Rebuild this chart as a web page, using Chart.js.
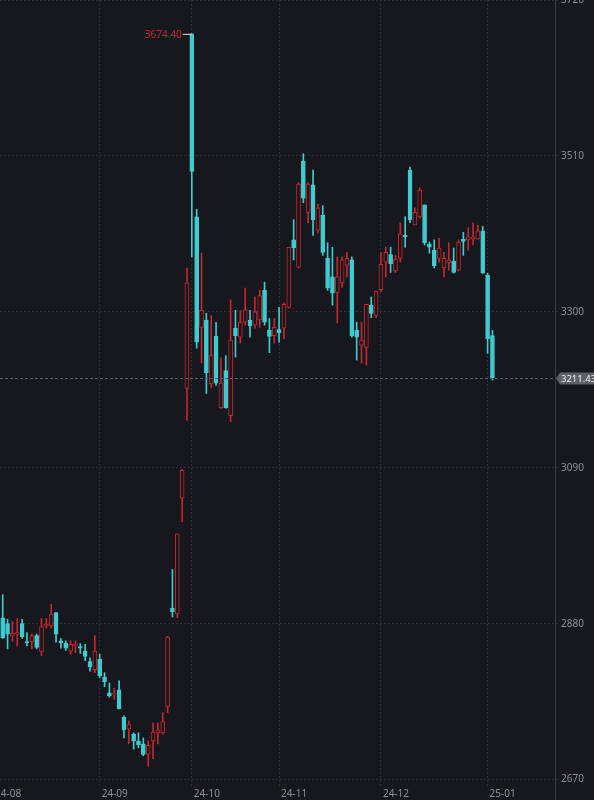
<!DOCTYPE html>
<html>
<head>
<meta charset="utf-8">
<script src="https://cdn.jsdelivr.net/npm/chart.js@4.4.1/dist/chart.umd.min.js"></script>
<style>
  html, body { margin: 0; padding: 0; background: #16181d; }
  #wrap { width: 594px; height: 800px; position: relative; }
</style>
</head>
<body>
<div id="wrap"><canvas id="kline"></canvas></div>
<script>
const dates = [
  "08-05","08-06","08-07","08-08","08-09","08-12","08-13","08-14","08-15","08-16",
  "08-19","08-20","08-21","08-22","08-23","08-26","08-27","08-28","08-29","08-30",
  "09-02","09-03","09-04","09-05","09-06","09-09","09-10","09-11","09-12","09-13",
  "09-18","09-19","09-20","09-23","09-24","09-25","09-26","09-27","09-30",
  "10-08","10-09","10-10","10-11","10-14","10-15","10-16","10-17","10-18",
  "10-21","10-22","10-23","10-24","10-25","10-28","10-29","10-30","10-31",
  "11-01","11-04","11-05","11-06","11-07","11-08","11-11","11-12","11-13","11-14",
  "11-15","11-18","11-19","11-20","11-21","11-22","11-25","11-26","11-27","11-28","11-29",
  "12-02","12-03","12-04","12-05","12-06","12-09","12-10","12-11","12-12","12-13",
  "12-16","12-17","12-18","12-19","12-20","12-23","12-24","12-25","12-26","12-27",
  "12-30","12-31","01-02","01-03"
];
const opens = [
  2888,2880,2863,2866,2880,2856,2856,2864,2842,2877,2877,2895,2857,2854,2843,2850,2849,2843,2829,2818,
  2832,2808,2787,2785,2791,2754,2738,2731,2722,2718,2704,2722,2733,2733,2768,2901,2893,3049,3197,
  3674.4,3428,3279,3289,3203,3267,3171,3221,3160,3278,3266,3286,3289,3282,3289,3329,3275,3268,
  3276,3278,3306,3397,3360,3503,3434,3471,3410,3430,3372,3347,3326,3339,3363,3370,3275,3255,3252,3309,3295,
  3330,3367,3377,3355,3372,3403,3491,3417,3428,3444,3391,3383,3372,3359,3366,3368,3356,3398,3397,3398,3398,3409,
  3349,3268
];
const highs = [
  2919,2886,2883,2887,2886,2868,2866,2866,2887,2887,2906,2895,2860,2857,2857,2857,2853,2852,2834,2864,
  2839,2814,2800,2793,2803,2756,2749,2733,2733,2726,2722,2746,2746,2760,2863,2953,3001,3088,3359,
  3674.4,3438,3379,3298,3295,3286,3238,3241,3316,3302,3302,3332,3302,3320,3329,3340,3291,3291,
  3306,3312,3387,3424,3474,3513,3474,3491,3445,3443,3393,3387,3374,3374,3380,3374,3286,3286,3310,3320,3328,
  3380,3387,3387,3376,3420,3428,3495,3440,3467,3444,3394,3397,3399,3380,3393,3386,3397,3407,3413,3420,3417,3415,
  3352,3275
];
const lows = [
  2860,2846,2856,2850,2860,2850,2846,2846,2837,2874,2874,2855,2847,2844,2839,2841,2840,2830,2816,2814,
  2807,2795,2781,2778,2765,2726,2718,2711,2713,2702,2688,2698,2718,2731,2760,2889,2888,3017,3154,
  3374,3251,3231,3190,3198,3201,3170,3170,3152,3239,3258,3282,3266,3278,3279,3282,3245,3258,
  3259,3264,3305,3370,3359,3447,3420,3403,3406,3376,3329,3309,3285,3333,3347,3266,3235,3231,3228,3292,3292,
  3327,3347,3353,3353,3367,3387,3420,3417,3426,3390,3379,3359,3367,3347,3356,3352,3355,3376,3383,3390,3398,3352,
  3244,3208
];
const closes = [
  2861,2866,2867,2868,2862,2854,2864,2848,2876,2879,2893,2866,2854,2847,2852,2852,2847,2836,2822,2843,
  2810,2802,2783,2786,2765,2737,2744,2722,2717,2704,2716,2734,2737,2748,2862,2896,3001,3087,3339,
  3489,3259,3302,3218,3241,3204,3204,3171,3262,3268,3286,3303,3281,3300,3322,3286,3267,3279,
  3272,3310,3387,3386,3472,3453,3472,3424,3440,3380,3332,3325,3347,3370,3372,3268,3266,3262,3310,3298,3328,
  3364,3380,3365,3371,3405,3401,3424,3434,3464,3393,3387,3362,3386,3372,3370,3353,3394,3395,3401,3401,3409,3352,
  3264,3211.43
];
const monthStarts = ["08-01","09-02","10-08","11-01","12-02","01-02"];
const monthLabels = ["24-08","24-09","24-10","24-11","24-12","25-01"];
const yTicks = [2670, 2880, 3090, 3300, 3510, 3720];

const UP = "#c8262e", DOWN = "#3fcbd0", BG = "#16181d";
const isUp = i => closes[i] >= opens[i];

// Aug 1 sits two trading days before the first candle
const monthIdx = monthStarts.map((d, k) => k === 0 ? -2 : dates.indexOf(d));

const bodies = dates.map((d, i) => ({ x: i, y: [opens[i], closes[i]] }));
const wicks = dates.map((d, i) => ({ x: i, y: [lows[i], highs[i]] }));

const overlay = {
  id: "overlay",
  afterDraw(chart) {
    const { ctx, scales: { x, y }, chartArea } = chart;
    ctx.save();
    ctx.font = "10px 'Noto Sans', sans-serif";
    ctx.textBaseline = "middle";
    // month labels
    ctx.fillStyle = "#8c8f96";
    ctx.textAlign = "left";
    monthIdx.forEach((idx, k) => {
      ctx.fillText(monthLabels[k], x.getPixelForValue(idx) + 2, chartArea.bottom + 7);
    });
    // axis border
    ctx.strokeStyle = "#3a3d44";
    ctx.beginPath(); ctx.moveTo(chartArea.right + 0.5, 0); ctx.lineTo(chartArea.right + 0.5, 800); ctx.stroke();
    // max marker
    let hi = 0;
    highs.forEach((h, i) => { if (h > highs[hi]) hi = i; });
    const hx = x.getPixelForValue(hi), hy = y.getPixelForValue(highs[hi]);
    ctx.strokeStyle = "#e0e0e0";
    ctx.lineWidth = 1;
    ctx.beginPath(); ctx.moveTo(hx - 9, hy + 0.5); ctx.lineTo(hx, hy + 0.5); ctx.stroke();
    ctx.fillStyle = UP;
    ctx.textAlign = "right";
    ctx.fillText(highs[hi].toFixed(2), hx - 10, hy + 1);
    // last price line and box
    const last = closes[closes.length - 1];
    const ly = Math.round(y.getPixelForValue(last)) + 0.5;
    ctx.strokeStyle = "#5a5d64";
    ctx.setLineDash([3, 2]);
    ctx.beginPath(); ctx.moveTo(chartArea.left, ly); ctx.lineTo(chartArea.right, ly); ctx.stroke();
    ctx.setLineDash([]);
    ctx.fillStyle = "#5d6067";
    ctx.beginPath();
    ctx.moveTo(chartArea.right + 1, ly);
    ctx.lineTo(chartArea.right + 5, ly - 6);
    ctx.lineTo(594, ly - 6);
    ctx.lineTo(594, ly + 6);
    ctx.lineTo(chartArea.right + 5, ly + 6);
    ctx.closePath();
    ctx.fill();
    ctx.fillStyle = "#f0f0f0";
    ctx.textAlign = "left";
    ctx.font = "9.5px 'Noto Sans', sans-serif";
    ctx.fillText(last.toFixed(2), chartArea.right + 6, ly + 1);
    ctx.restore();
  }
};

new Chart(document.getElementById("kline"), {
  type: "bar",
  data: {
    datasets: [
      {
        data: bodies,
        order: 0,
        grouped: false,
        barThickness: 4,
        borderSkipped: false,
        backgroundColor: c => isUp(c.dataIndex) ? BG : DOWN,
        borderColor: c => isUp(c.dataIndex) ? UP : DOWN,
        borderWidth: 1
      },
      {
        data: wicks,
        order: 1,
        grouped: false,
        barThickness: 1,
        backgroundColor: c => isUp(c.dataIndex) ? UP : DOWN,
        borderWidth: 0
      }
    ]
  },
  options: {
    responsive: true,
    maintainAspectRatio: false,
    animation: false,
    layout: { padding: { left: 0, top: 0, bottom: 13, right: 0 } },
    plugins: { legend: { display: false }, tooltip: { enabled: false } },
    scales: {
      x: {
        type: "linear",
        offset: false,
        min: -0.56,
        max: 113.9,
        afterBuildTicks: s => { s.ticks = monthIdx.filter(v => v >= s.min).map(v => ({ value: v })); },
        afterFit: s => { s.paddingLeft = 0; s.paddingRight = 0; },
        ticks: { display: false },
        grid: { color: "#2c2f36", drawTicks: false, offset: false },
        border: { display: false, dash: [2, 2] }
      },
      y: {
        position: "right",
        min: 2660,
        max: 3720,
        afterBuildTicks: s => { s.ticks = yTicks.map(v => ({ value: v })); },
        afterFit: s => { s.width = 39; s.paddingTop = 0; s.paddingBottom = 0; },
        ticks: {
          color: "#8c8f96", font: { size: 10, family: "'Noto Sans', sans-serif" }, padding: 3,
          callback: v => String(v)
        },
        grid: { color: "#2c2f36", tickLength: 3 },
        border: { display: false, dash: [2, 2] }
      }
    }
  },
  plugins: [overlay]
});

document.getElementById("kline").parentNode.style.height = "800px";
</script>
</body>
</html>
